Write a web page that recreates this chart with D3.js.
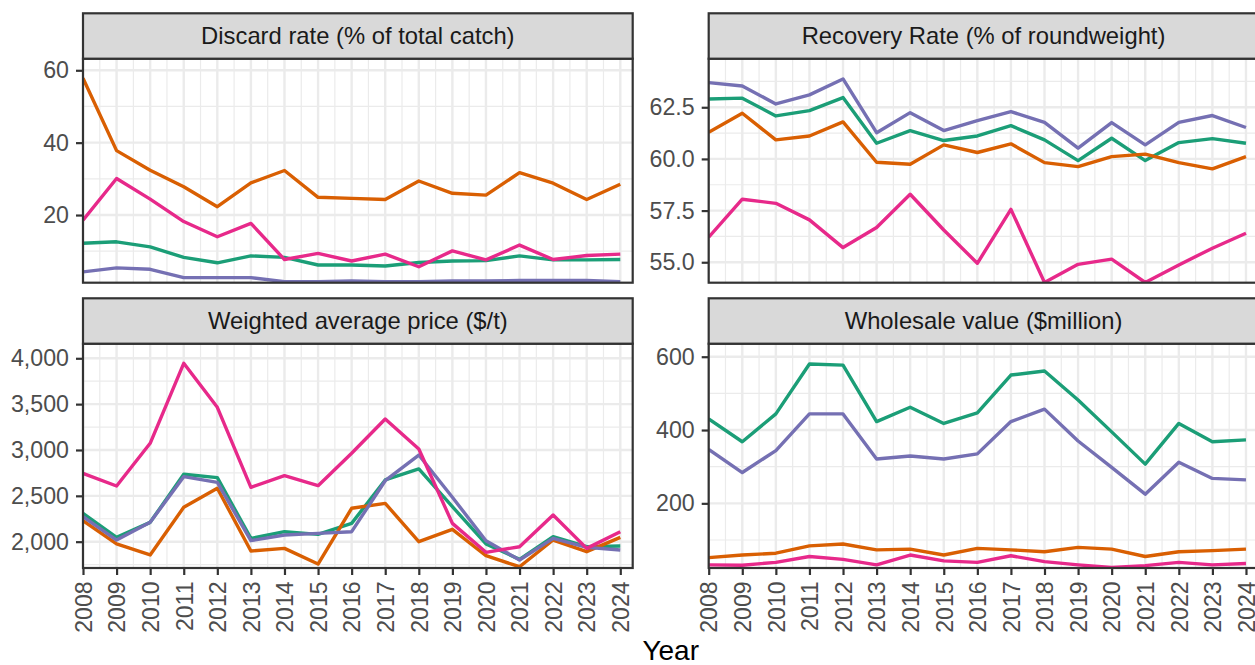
<!DOCTYPE html>
<html><head><meta charset="utf-8">
<script src="https://cdn.jsdelivr.net/npm/d3@7"></script>
<style>
body{margin:0;background:#fff}
svg{display:block}
text{font-family:"Liberation Sans",Arial,Helvetica,sans-serif}
</style>
</head><body>
<svg id="chart" width="1255" height="665"></svg>
<script>
// ---------- data ----------
const years = [2008,2009,2010,2011,2012,2013,2014,2015,2016,2017,2018,2019,2020,2021,2022,2023,2024];
const seriesKeys = ["Series 1","Series 2","Series 3","Series 4"];
const seriesColors = ["#1B9E77","#D95F02","#7570B3","#E7298A"];

const panelTitles = ["Discard rate (% of total catch)","Recovery Rate (% of roundweight)","Weighted average price ($/t)","Wholesale value ($million)"];

// Discard rate
const discard1 = [12.2,12.6,11.2,8.3,6.8,8.7,8.3,6.2,6.2,5.9,6.9,7.3,7.4,8.7,7.6,7.6,7.7];
const discard2 = [57.8,37.8,32.4,27.8,22.3,28.9,32.3,24.9,24.6,24.3,29.4,26.0,25.5,31.7,28.8,24.3,28.5];
const discard3 = [4.3,5.4,5.0,2.7,2.7,2.7,1.6,1.6,1.8,1.6,1.6,1.8,1.8,1.9,1.9,1.9,1.6];
const discard4 = [18.6,30.1,24.4,18.2,14.0,17.7,7.7,9.4,7.3,9.2,5.7,10.1,7.6,11.7,7.7,8.8,9.2];

// Recovery rate
const recovery1 = [62.90,62.94,62.08,62.34,62.97,60.76,61.37,60.89,61.11,61.61,60.92,59.92,61.00,59.92,60.79,60.98,60.76];
const recovery2 = [61.29,62.21,60.92,61.11,61.79,59.84,59.74,60.68,60.31,60.73,59.82,59.63,60.11,60.23,59.82,59.52,60.11];
const recovery3 = [63.69,63.53,62.66,63.10,63.87,61.27,62.24,61.37,61.85,62.29,61.77,60.52,61.76,60.68,61.77,62.10,61.52];
const recovery4 = [56.21,58.05,57.85,57.05,55.71,56.68,58.29,56.56,54.95,57.56,54.02,54.90,55.15,54.02,54.87,55.68,56.40];

// Weighted average price
const price1 = [2309,2047,2211,2735,2698,2036,2109,2080,2200,2673,2793,2382,1975,1807,2055,1945,1953];
const price2 = [2229,1975,1855,2375,2582,1898,1927,1756,2364,2418,2000,2135,1847,1727,2018,1891,2047];
const price3 = [2273,2018,2211,2709,2647,2011,2073,2091,2109,2665,2945,2484,2011,1800,2036,1938,1909];
const price4 = [2745,2607,3073,3945,3465,2593,2720,2611,2964,3338,3011,2200,1884,1945,2291,1927,2109];

// Wholesale value
const wholesale1 = [430,368,444,580,577,423,462,418,447,550,561,482,395,307,418,368,373];
const wholesale2 = [52,59,64,84,89,73,75,59,77,73,68,80,75,55,68,71,75];
const wholesale3 = [347,284,344,444,444,321,329,321,335,423,457,370,298,225,312,268,264];
const wholesale4 = [32,31,39,55,47,32,59,43,39,57,41,32,25,30,39,32,36];

// tick labels
const discardTicks = [20,40,60];
const recoveryTicks = [55,57.5,60,62.5];
const priceTicks = [2000,2500,3000,3500,4000];
const wholesaleTicks = [200,400,600];

// ---------- layout ----------
const panels = [
  {title:panelTitles[0], series:[discard1,discard2,discard3,discard4], ticks:discardTicks, fmt:d3.format("d"), domain:[1.3,63.2]},
  {title:panelTitles[1], series:[recovery1,recovery2,recovery3,recovery4], ticks:recoveryTicks, fmt:d3.format(".1f"), domain:[54.01,64.85]},
  {title:panelTitles[2], series:[price1,price2,price3,price4], ticks:priceTicks, fmt:d3.format(","), domain:[1713,4159]},
  {title:panelTitles[3], series:[wholesale1,wholesale2,wholesale3,wholesale4], ticks:wholesaleTicks, fmt:d3.format("d"), domain:[23.6,635.5]}
];

const svg = d3.select("#chart");
const colX = [83, 708.7];
const panelW = 549.7;
const yearStep = 33.58;
const rows = [{strip:13.3, top:58.7, bottom:282.7},{strip:298.3, top:343.7, bottom:568}];

const defs = svg.append("defs");

panels.forEach((p, i) => {
  const c = i % 2, r = Math.floor(i / 2);
  const x0 = colX[c], x1 = x0 + panelW;
  const {strip, top, bottom} = rows[r];
  const x = d3.scaleLinear().domain([2008, 2008 + panelW / yearStep]).range([x0, x1]);
  const y = d3.scaleLinear().domain(p.domain).range([bottom, top]);
  const g = svg.append("g");

  g.append("rect").attr("x", x0).attr("y", top).attr("width", panelW).attr("height", bottom - top).attr("fill", "#fff");

  // minor grid
  const step = p.ticks[1] - p.ticks[0];
  const minorY = [p.ticks[0] - step / 2, ...p.ticks.map(t => t + step / 2)].filter(v => v > p.domain[0] && v < p.domain[1]);
  const minorX = years.map(v => v + 0.5).filter(v => v < x.domain()[1]);
  g.selectAll(".mny").data(minorY).join("line")
    .attr("x1", x0).attr("x2", x1).attr("y1", d => y(d)).attr("y2", d => y(d))
    .attr("stroke", "#EBEBEB").attr("stroke-width", 1.2);
  g.selectAll(".mnx").data(minorX).join("line")
    .attr("x1", d => x(d)).attr("x2", d => x(d)).attr("y1", top).attr("y2", bottom)
    .attr("stroke", "#EBEBEB").attr("stroke-width", 1.2);
  // major grid
  g.selectAll(".mjy").data(p.ticks).join("line")
    .attr("x1", x0).attr("x2", x1).attr("y1", d => y(d)).attr("y2", d => y(d))
    .attr("stroke", "#EBEBEB").attr("stroke-width", 2.4);
  g.selectAll(".mjx").data(years).join("line")
    .attr("x1", d => x(d)).attr("x2", d => x(d)).attr("y1", top).attr("y2", bottom)
    .attr("stroke", "#EBEBEB").attr("stroke-width", 2.4);

  // lines
  const cid = "clip" + i;
  defs.append("clipPath").attr("id", cid).append("rect")
    .attr("x", x0).attr("y", top).attr("width", panelW).attr("height", bottom - top);
  const line = d3.line().x((d, k) => x(years[k])).y(d => y(d));
  g.append("g").attr("clip-path", `url(#${cid})`)
    .selectAll("path").data(p.series).join("path")
    .attr("d", d => line(d))
    .attr("fill", "none")
    .attr("stroke", (d, k) => seriesColors[k])
    .attr("stroke-width", 3.4)
    .attr("stroke-linejoin", "round");

  // panel border
  g.append("rect").attr("x", x0).attr("y", top).attr("width", panelW).attr("height", bottom - top)
    .attr("fill", "none").attr("stroke", "#333333").attr("stroke-width", 2.2);

  // strip
  g.append("rect").attr("x", x0).attr("y", strip).attr("width", panelW).attr("height", top - strip)
    .attr("fill", "#D9D9D9").attr("stroke", "#333333").attr("stroke-width", 2.2);
  g.append("text").attr("x", (x0 + x1) / 2).attr("y", strip + 31)
    .attr("text-anchor", "middle").attr("font-size", 23.8).attr("fill", "#1A1A1A").text(p.title);

  // y axis
  const ya = g.append("g").attr("transform", `translate(${x0},0)`)
    .call(d3.axisLeft(y).tickValues(p.ticks).tickFormat(p.fmt).tickSize(7).tickPadding(7));
  ya.select(".domain").remove();
  ya.selectAll(".tick line").attr("stroke", "#333333").attr("stroke-width", 2.2);
  ya.selectAll(".tick text").attr("font-size", 23.2).attr("fill", "#4D4D4D")
    .attr("font-family", '"Liberation Sans",Arial,sans-serif');

  // x axis (bottom row only)
  if (r === 1) {
    const xa = g.append("g").attr("transform", `translate(0,${bottom})`)
      .call(d3.axisBottom(x).tickValues(years).tickFormat(d3.format("d")).tickSize(7));
    xa.select(".domain").remove();
    xa.selectAll(".tick line").attr("stroke", "#333333").attr("stroke-width", 2.2);
    xa.selectAll(".tick text")
      .attr("transform", "rotate(-90)")
      .attr("x", -13.5).attr("y", 0).attr("dy", "0.36em")
      .attr("text-anchor", "end")
      .attr("font-size", 23).attr("fill", "#4D4D4D")
      .attr("font-family", '"Liberation Sans",Arial,sans-serif');
  }
});

// axis title
svg.append("text").attr("x", (colX[0] + colX[1] + panelW) / 2).attr("y", 660)
  .attr("text-anchor", "middle").attr("font-size", 28).attr("fill", "#000").text("Year");
</script>
</body></html>
